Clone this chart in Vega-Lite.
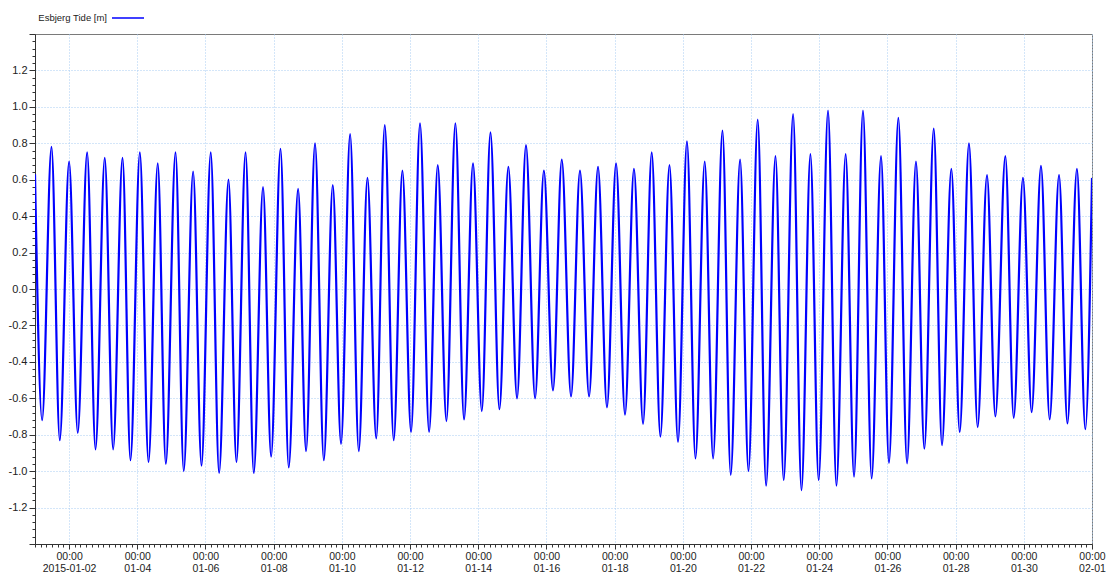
{
  "$schema": "https://vega.github.io/schema/vega-lite/v6.json",
  "autosize": {"type": "none"},
  "width": 1057,
  "height": 510,
  "padding": {"left": 35, "top": 34, "right": 18, "bottom": 30},
  "background": "white",
  "config": {
    "view": {"stroke": "#7a7a7a", "strokeWidth": 1},
    "font": "Liberation Sans",
    "axis": {"labelFont": "Liberation Sans", "labelColor": "#222", "domainColor": "#333", "tickColor": "#333", "titleFont": "Liberation Sans"}
  },
  "data": {"values": [
    {"t":"2015-01-01T00:00Z","v":0.63},{"t":"2015-01-01T05:00Z","v":-0.72},{"t":"2015-01-01T11:36Z","v":0.78},{"t":"2015-01-01T17:27Z","v":-0.83},
    {"t":"2015-01-02T00:00Z","v":0.70},{"t":"2015-01-02T06:06Z","v":-0.79},{"t":"2015-01-02T12:42Z","v":0.75},{"t":"2015-01-02T18:36Z","v":-0.88},
    {"t":"2015-01-03T01:06Z","v":0.72},{"t":"2015-01-03T07:00Z","v":-0.88},{"t":"2015-01-03T13:36Z","v":0.72},{"t":"2015-01-03T19:12Z","v":-0.94},
    {"t":"2015-01-04T01:48Z","v":0.75},{"t":"2015-01-04T07:54Z","v":-0.95},{"t":"2015-01-04T14:24Z","v":0.69},{"t":"2015-01-04T20:06Z","v":-0.96},
    {"t":"2015-01-05T02:54Z","v":0.75},{"t":"2015-01-05T08:42Z","v":-1.00},{"t":"2015-01-05T15:18Z","v":0.645},{"t":"2015-01-05T21:12Z","v":-0.97},
    {"t":"2015-01-06T03:42Z","v":0.75},{"t":"2015-01-06T09:36Z","v":-1.01},{"t":"2015-01-06T16:12Z","v":0.60},{"t":"2015-01-06T21:48Z","v":-0.95},
    {"t":"2015-01-07T04:12Z","v":0.75},{"t":"2015-01-07T10:00Z","v":-1.01},{"t":"2015-01-07T16:30Z","v":0.56},{"t":"2015-01-07T22:12Z","v":-0.92},
    {"t":"2015-01-08T04:48Z","v":0.77},{"t":"2015-01-08T10:36Z","v":-0.98},{"t":"2015-01-08T17:12Z","v":0.55},{"t":"2015-01-08T22:48Z","v":-0.89},
    {"t":"2015-01-09T05:06Z","v":0.80},{"t":"2015-01-09T11:18Z","v":-0.94},{"t":"2015-01-09T17:36Z","v":0.57},{"t":"2015-01-09T23:24Z","v":-0.85},
    {"t":"2015-01-10T05:48Z","v":0.85},{"t":"2015-01-10T11:54Z","v":-0.89},{"t":"2015-01-10T18:00Z","v":0.61},{"t":"2015-01-11T00:12Z","v":-0.82},
    {"t":"2015-01-11T06:12Z","v":0.90},{"t":"2015-01-11T12:30Z","v":-0.83},{"t":"2015-01-11T18:36Z","v":0.65},{"t":"2015-01-12T00:42Z","v":-0.785},
    {"t":"2015-01-12T07:00Z","v":0.91},{"t":"2015-01-12T13:24Z","v":-0.785},{"t":"2015-01-12T19:30Z","v":0.68},{"t":"2015-01-13T01:36Z","v":-0.725},
    {"t":"2015-01-13T07:54Z","v":0.91},{"t":"2015-01-13T14:00Z","v":-0.716},{"t":"2015-01-13T20:18Z","v":0.69},{"t":"2015-01-14T02:30Z","v":-0.67},
    {"t":"2015-01-14T08:36Z","v":0.86},{"t":"2015-01-14T14:54Z","v":-0.66},{"t":"2015-01-14T21:12Z","v":0.67},{"t":"2015-01-15T03:18Z","v":-0.60},
    {"t":"2015-01-15T09:36Z","v":0.79},{"t":"2015-01-15T16:00Z","v":-0.60},{"t":"2015-01-15T22:12Z","v":0.65},{"t":"2015-01-16T04:36Z","v":-0.557},
    {"t":"2015-01-16T10:48Z","v":0.71},{"t":"2015-01-16T17:18Z","v":-0.59},{"t":"2015-01-16T23:36Z","v":0.65},{"t":"2015-01-17T06:00Z","v":-0.59},
    {"t":"2015-01-17T12:18Z","v":0.67},{"t":"2015-01-17T18:36Z","v":-0.65},{"t":"2015-01-18T01:00Z","v":0.69},{"t":"2015-01-18T07:18Z","v":-0.69},
    {"t":"2015-01-18T13:36Z","v":0.66},{"t":"2015-01-18T20:00Z","v":-0.74},{"t":"2015-01-19T02:06Z","v":0.75},{"t":"2015-01-19T08:12Z","v":-0.81},
    {"t":"2015-01-19T14:36Z","v":0.68},{"t":"2015-01-19T20:36Z","v":-0.84},{"t":"2015-01-20T02:54Z","v":0.81},{"t":"2015-01-20T08:54Z","v":-0.93},
    {"t":"2015-01-20T15:24Z","v":0.70},{"t":"2015-01-20T21:18Z","v":-0.93},{"t":"2015-01-21T03:54Z","v":0.87},{"t":"2015-01-21T09:42Z","v":-1.02},
    {"t":"2015-01-21T16:18Z","v":0.71},{"t":"2015-01-21T22:12Z","v":-1.00},{"t":"2015-01-22T04:42Z","v":0.93},{"t":"2015-01-22T10:36Z","v":-1.08},
    {"t":"2015-01-22T17:12Z","v":0.73},{"t":"2015-01-22T23:00Z","v":-1.05},{"t":"2015-01-23T05:36Z","v":0.96},{"t":"2015-01-23T11:30Z","v":-1.105},
    {"t":"2015-01-23T17:48Z","v":0.74},{"t":"2015-01-23T23:36Z","v":-1.05},{"t":"2015-01-24T06:12Z","v":0.98},{"t":"2015-01-24T12:06Z","v":-1.08},
    {"t":"2015-01-24T18:36Z","v":0.74},{"t":"2015-01-25T00:30Z","v":-1.03},{"t":"2015-01-25T06:48Z","v":0.98},{"t":"2015-01-25T12:54Z","v":-1.04},
    {"t":"2015-01-25T19:30Z","v":0.73},{"t":"2015-01-26T01:06Z","v":-0.955},{"t":"2015-01-26T07:42Z","v":0.94},{"t":"2015-01-26T13:48Z","v":-0.957},
    {"t":"2015-01-26T20:06Z","v":0.70},{"t":"2015-01-27T02:00Z","v":-0.877},{"t":"2015-01-27T08:36Z","v":0.88},{"t":"2015-01-27T14:24Z","v":-0.857},
    {"t":"2015-01-27T21:00Z","v":0.66},{"t":"2015-01-28T02:54Z","v":-0.785},{"t":"2015-01-28T09:24Z","v":0.80},{"t":"2015-01-28T15:30Z","v":-0.758},
    {"t":"2015-01-28T22:06Z","v":0.626},{"t":"2015-01-29T04:00Z","v":-0.70},{"t":"2015-01-29T11:00Z","v":0.73},{"t":"2015-01-29T16:54Z","v":-0.707},
    {"t":"2015-01-29T23:24Z","v":0.61},{"t":"2015-01-30T05:30Z","v":-0.676},{"t":"2015-01-30T12:06Z","v":0.676},{"t":"2015-01-30T18:12Z","v":-0.716},
    {"t":"2015-01-31T00:48Z","v":0.626},{"t":"2015-01-31T06:42Z","v":-0.738},{"t":"2015-01-31T13:24Z","v":0.66},{"t":"2015-01-31T19:18Z","v":-0.77},
    {"t":"2015-02-01T00:00Z","v":0.61}
  ]},
  "mark": {"type": "line", "interpolate": "monotone", "strokeWidth": 2.2, "clip": true},
  "encoding": {
    "x": {
      "field": "t", "type": "temporal", "title": null,
      "scale": {"type": "utc", "domain": [{"year": 2015, "month": 1, "date": 1, "utc": true}, {"year": 2015, "month": 2, "date": 1, "utc": true}]},
      "axis": {
        "values": {"expr": "sequence(1420070400000, 1422748800001, 14400000)"},
        "labelExpr": "((datum.value - 1420070400000) % 172800000 == 86400000) ? ['00:00', utcFormat(datum.value, '%m-%d') == '01-02' ? utcFormat(datum.value, '%Y-%m-%d') : utcFormat(datum.value, '%m-%d')] : ''",
        "labelFontSize": 10.5, "labelLineHeight": 12, "labelPadding": 2, "labelBaseline": "top",
        "labelAngle": 0, "labelOverlap": false, "labelFlush": false, "labelBound": false,
        "tickSize": {"condition": {"test": "(datum.value - 1420070400000) % 172800000 == 86400000", "value": 5}, "value": 3},
        "grid": true, "gridColor": "#a9cdf2", "gridDash": [1, 2], "gridWidth": 1,
        "gridOpacity": {"condition": {"test": "(datum.value - 1420070400000) % 172800000 == 86400000", "value": 1}, "value": 0}
      }
    },
    "y": {
      "field": "v", "type": "quantitative", "title": null,
      "scale": {"domain": [-1.4, 1.4], "nice": false, "zero": false},
      "axis": {
        "values": [-1.4,-1.36,-1.32,-1.28,-1.24,-1.2,-1.16,-1.12,-1.08,-1.04,-1,-0.96,-0.92,-0.88,-0.84,-0.8,-0.76,-0.72,-0.68,-0.64,-0.6,-0.56,-0.52,-0.48,-0.44,-0.4,-0.36,-0.32,-0.28,-0.24,-0.2,-0.16,-0.12,-0.08,-0.04,0,0.04,0.08,0.12,0.16,0.2,0.24,0.28,0.32,0.36,0.4,0.44,0.48,0.52,0.56,0.6,0.64,0.68,0.72,0.76,0.8,0.84,0.88,0.92,0.96,1,1.04,1.08,1.12,1.16,1.2,1.24,1.28,1.32,1.36,1.4],
        "labelExpr": "(abs(datum.value * 5 - round(datum.value * 5)) < 0.001 && abs(datum.value) < 1.3) ? replace(format(datum.value, '.1f'), '\u2212', '-') : ''",
        "labelFontSize": 11, "labelPadding": 2, "labelOverlap": false, "labelFlush": false, "labelBound": false,
        "tickSize": {"condition": {"test": "abs(datum.value * 5 - round(datum.value * 5)) < 0.001", "value": 6}, "value": 3},
        "grid": true, "gridColor": "#a9cdf2", "gridDash": [1, 2], "gridWidth": 1,
        "gridOpacity": {"condition": {"test": "abs(datum.value * 5 - round(datum.value * 5)) < 0.001 && abs(datum.value) < 1.3", "value": 1}, "value": 0}
      }
    },
    "color": {
      "datum": "Esbjerg Tide [m]", "type": "nominal",
      "scale": {"range": ["#0000ff"]},
      "legend": {
        "title": null, "orient": "none", "legendX": 76, "legendY": -33, "padding": 0,
        "symbolType": "stroke", "symbolSize": 1024, "symbolStrokeWidth": 1.5,
        "labelAlign": "right", "labelOffset": -38, "labelFontSize": 9.5, "labelFont": "Liberation Sans", "labelColor": "#222"
      }
    }
  }
}
